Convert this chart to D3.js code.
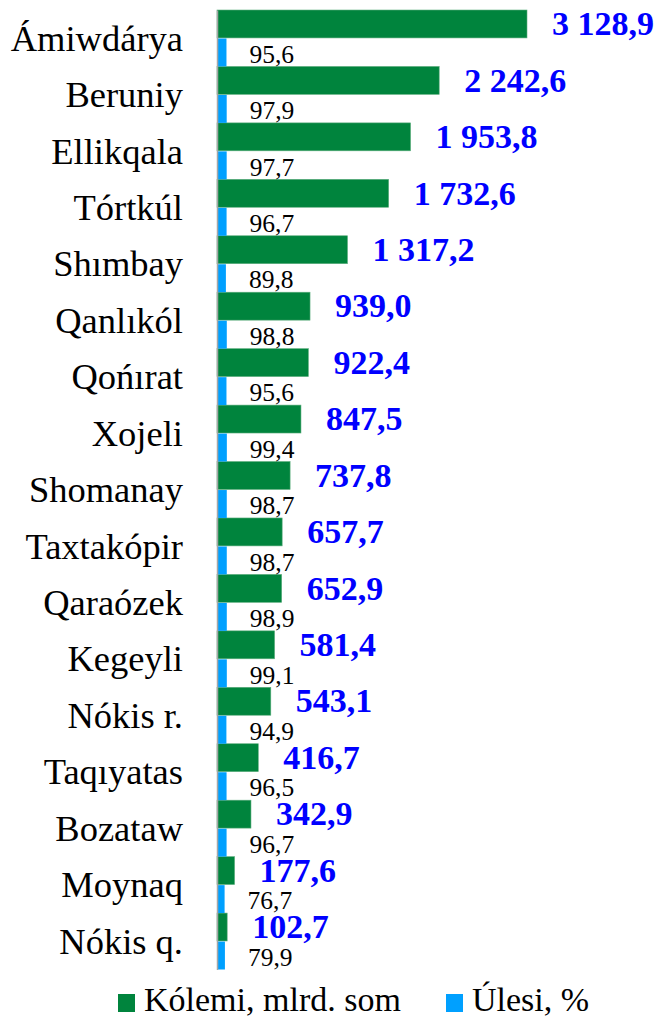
<!DOCTYPE html>
<html>
<head>
<meta charset="utf-8">
<script src="https://cdn.jsdelivr.net/npm/d3@7"></script>
</head>
<body style="margin:0;background:#fff">
<svg id="chart" width="659" height="1018" style="display:block"></svg>
<script>
const categories = ["Ámiwdárya","Beruniy","Ellikqala","Tórtkúl","Shımbay","Qanlıkól","Qońırat","Xojeli","Shomanay","Taxtakópir","Qaraózek","Kegeyli","Nókis r.","Taqıyatas","Bozataw","Moynaq","Nókis q."];
const kolemi = [3128.9,2242.6,1953.8,1732.6,1317.2,939.0,922.4,847.5,737.8,657.7,652.9,581.4,543.1,416.7,342.9,177.6,102.7];
const ulesi = [95.6,97.9,97.7,96.7,89.8,98.8,95.6,99.4,98.7,98.7,98.9,99.1,94.9,96.5,96.7,76.7,79.9];
const seriesNames = ["Kólemi, mlrd. som","Úlesi, %"];
const seriesColors = ["#00843d","#00a0ff"];

const FONT = '"Liberation Serif", "Tinos", serif';

const fmt = v => {
  const s = v.toFixed(1).replace(".", ",");
  const [i, d] = s.split(",");
  return i.replace(/\B(?=(\d{3})+(?!\d))/g, " ") + "," + d;
};

const svg = d3.select("#chart");
const x0 = 217;
const x = d3.scaleLinear().domain([0, 3128.9]).range([x0, 527]);
const y = d3.scaleBand().domain(categories).range([10, 969.5]).paddingInner(0).paddingOuter(0);
const sub = d3.scaleBand().domain(["k","u"]).range([0, y.bandwidth()]).paddingInner(0.02);

// green bars
svg.append("g").selectAll("rect").data(categories).join("rect")
  .attr("x", x(0))
  .attr("y", (c) => y(c) + sub("k"))
  .attr("width", (c, i) => x(kolemi[i]) - x(0))
  .attr("height", sub.bandwidth())
  .attr("fill", seriesColors[0])
  .attr("stroke", "#5fae7f")
  .attr("stroke-width", 0.6);

// blue bars
svg.append("g").selectAll("rect").data(categories).join("rect")
  .attr("x", x(0))
  .attr("y", (c) => y(c) + sub("u"))
  .attr("width", (c, i) => x(ulesi[i]) - x(0))
  .attr("height", sub.bandwidth())
  .attr("fill", seriesColors[1]);

// axis
const yAxis = d3.axisLeft(y).tickSize(0).tickPadding(34).tickFormat(d => d);
const ag = svg.append("g").attr("transform", `translate(${x0},0)`).call(yAxis);
ag.attr("font-family", FONT).attr("font-size", 36.5);
ag.select(".domain").attr("stroke", "#a6a6a6").attr("stroke-width", 1.5);
ag.selectAll(".tick text")
  .attr("font-family", FONT)
  .attr("font-size", 36.5)
  .attr("fill", "#000")
  .attr("dy", "0.34em");

// value labels green
svg.append("g").selectAll("text").data(categories).join("text")
  .attr("x", (c, i) => x(kolemi[i]) + 25)
  .attr("y", (c) => y(c) + sub("k") + sub.bandwidth() / 2)
  .attr("dy", "0.33em")
  .attr("font-family", FONT)
  .attr("font-weight", "bold")
  .attr("font-size", 34)
  .attr("fill", "#0000ff")
  .text((c, i) => fmt(kolemi[i]));

// value labels blue
svg.append("g").selectAll("text").data(categories).join("text")
  .attr("x", (c, i) => x(ulesi[i]) + 23)
  .attr("y", (c) => y(c) + sub("u") + sub.bandwidth() / 2)
  .attr("dy", "0.4em")
  .attr("font-family", FONT)
  .attr("font-size", 25.5)
  .attr("fill", "#000")
  .text((c, i) => fmt(ulesi[i]));

// legend
const legendX = [118, 446];
const lg = svg.append("g");
seriesNames.forEach((n, i) => {
  lg.append("rect").attr("x", legendX[i]).attr("y", 994).attr("width", 17).attr("height", 18).attr("fill", seriesColors[i]);
  lg.append("text").attr("x", legendX[i] + 26).attr("y", 1011)
    .attr("font-family", FONT).attr("font-size", 34).attr("fill", "#000").text(n);
});
</script>
</body>
</html>
